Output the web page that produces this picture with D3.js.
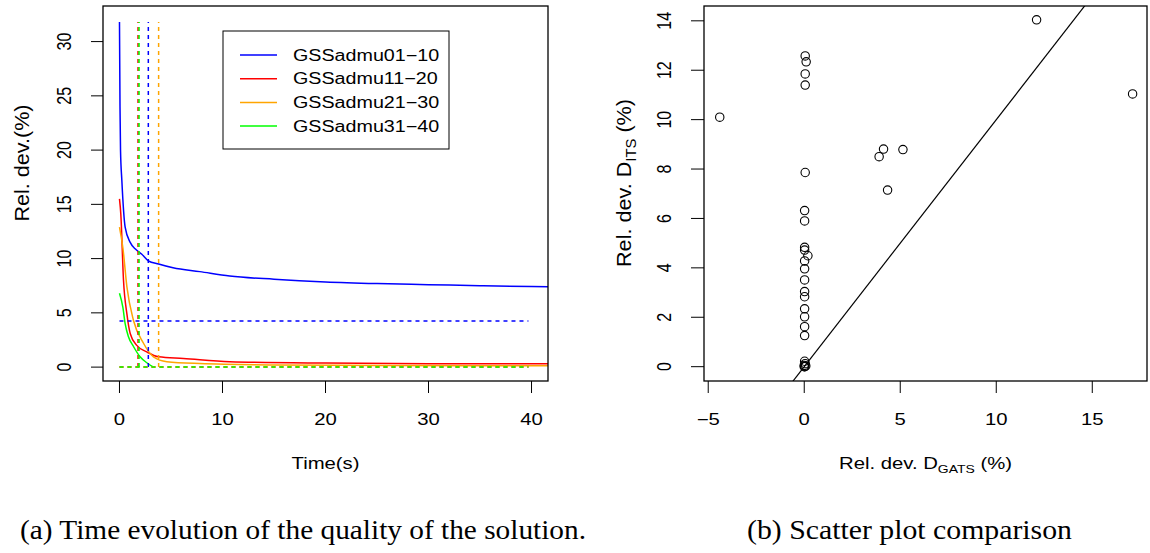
<!DOCTYPE html>
<html>
<head>
<meta charset="utf-8">
<script src="https://cdn.jsdelivr.net/npm/d3@7"></script>
<style>
  body { margin: 0; background: #fff; }
  text { font-family: "Liberation Sans", Arial, sans-serif; fill: #000; }
  text.caption { font-family: "Liberation Serif", "Times New Roman", serif; }
</style>
</head>
<body>
<svg id="chart" width="1150" height="553"></svg>
<script>
// ---- data ----
const seriesNames = ["GSSadmu01\u221210", "GSSadmu11\u221220", "GSSadmu21\u221230", "GSSadmu31\u221240"];
const seriesColors = ["#0000ff", "#ff0000", "#ffa500", "#00ff00"];

const blueT = [0, 0.05, 0.1, 0.23, 0.55, 1.04, 1.52, 2.17, 2.8, 3.8, 5.2, 7.8, 10.7, 15, 20, 25, 30, 35, 40, 42];
const blueV = [31.8, 24, 20, 17.2, 12.9, 11.5, 10.9, 10.4, 9.8, 9.5, 9.15, 8.8, 8.4, 8.1, 7.85, 7.7, 7.6, 7.5, 7.42, 7.4];
const redT = [0, 0.13, 0.39, 0.72, 1.04, 1.68, 2.65, 3.8, 6.2, 10.7, 20, 30, 42];
const redV = [15.5, 14.1, 8.0, 4.9, 3.1, 2.0, 1.4, 0.95, 0.8, 0.5, 0.37, 0.32, 0.3];
const orangeT = [0, 0.33, 0.72, 1.36, 2.33, 3.3, 4.6, 7.8, 15, 25, 42];
const orangeV = [12.9, 11.0, 7.4, 4.3, 2.2, 0.95, 0.5, 0.33, 0.2, 0.15, 0.12];
const greenT = [0, 0.33, 0.55, 0.87, 1.36, 2.0, 2.65, 3.3];
const greenV = [6.8, 5.5, 4.0, 2.8, 1.9, 0.95, 0.4, 0];

// dashed reference lines per series: mean time (vertical) and level (horizontal)
const refTime = [2.8, 1.8, 3.8, 1.9];
const refLevel = [4.25, 0, 0, 0];
const refTop = 31.8;
const refEnd = 39.7;

const timeTicks = [0, 10, 20, 30, 40];
const devTicks = [0, 5, 10, 15, 20, 25, 30];

// scatter: GATS vs ITS relative deviation
const gatsDev = [-4.4, 12.1, 17.1, 3.9, 4.13, 5.14, 4.34,
  0.05, 0.1, 0.05, 0.05, 0.05, 0.02, 0.02, 0.02, 0.02, 0.19, 0.02, 0.02, 0.02,
  0.02, 0.02, 0.02, 0.02, 0.02, 0.02, 0.02, 0.05, 0, 0.03, 0.08, 0];
const itsDev = [10.1, 14.04, 11.04, 8.5, 8.81, 8.79, 7.15,
  12.58, 12.34, 11.85, 11.4, 7.86, 6.32, 5.9, 4.83, 4.72, 4.49, 4.28, 3.96, 3.51,
  3.04, 2.83, 2.34, 2.02, 1.62, 1.26, 0.22, 0.12, 0.05, 0.0, 0.03, 0.0];
const gatsTicks = [-5, 0, 5, 10, 15];
const itsTicks = [0, 2, 4, 6, 8, 10, 12, 14];

const captions = ["(a) Time evolution of the quality of the solution.", "(b) Scatter plot comparison"];

// ---- layout ----
const svg = d3.select("#chart");
const stretch = 1.27;   // the plot text in the picture is wider than normal
const fs = 16;

function label(g, x, y, txt, rotate) {
  return g.append("text")
    .attr("transform", `translate(${x},${y}) scale(${stretch},1)` + (rotate ? " rotate(-90)" : ""))
    .attr("text-anchor", "middle")
    .attr("dy", "0.35em")
    .attr("font-size", fs)
    .text(txt);
}

// ================= left panel =================
const L = { left: 103, right: 548, top: 6, bottom: 381 };
const x1 = d3.scaleLinear().domain([-1.6, 41.6]).range([L.left, L.right]);
const y1 = d3.scaleLinear().domain([-1.28, 33.28]).range([L.bottom, L.top]);

svg.append("clipPath").attr("id", "clipL")
  .append("rect").attr("x", L.left).attr("y", L.top)
  .attr("width", L.right - L.left).attr("height", L.bottom - L.top);

const left = svg.append("g");
const plotL = left.append("g").attr("clip-path", "url(#clipL)");

const line1 = d3.line().x(d => x1(d[0])).y(d => y1(d[1])).curve(d3.curveMonotoneX);
const curves = [[blueT, blueV], [redT, redV], [orangeT, orangeV], [greenT, greenV]];

curves.forEach((c, i) => {
  plotL.append("path")
    .datum(d3.zip(c[0], c[1]))
    .attr("fill", "none").attr("stroke", seriesColors[i]).attr("stroke-width", 1.5)
    .attr("d", line1);
});

// dashed reference lines
seriesColors.forEach((col, i) => {
  plotL.append("line")
    .attr("x1", x1(refTime[i])).attr("x2", x1(refTime[i]))
    .attr("y1", y1(0)).attr("y2", y1(refTop))
    .attr("stroke", col).attr("stroke-width", 1.5).attr("stroke-dasharray", "4,4");
  plotL.append("line")
    .attr("x1", x1(0)).attr("x2", x1(refEnd))
    .attr("y1", y1(refLevel[i])).attr("y2", y1(refLevel[i]))
    .attr("stroke", col).attr("stroke-width", 1.5).attr("stroke-dasharray", "4,4");
});

left.append("rect")
  .attr("x", L.left).attr("y", L.top)
  .attr("width", L.right - L.left).attr("height", L.bottom - L.top)
  .attr("fill", "none").attr("stroke", "#000").attr("stroke-width", 1.3);

// axes (R style: ticks outside, labels further out)
left.selectAll(".xt").data(timeTicks).join("line").attr("class", "xt")
  .attr("x1", d => x1(d)).attr("x2", d => x1(d))
  .attr("y1", L.bottom).attr("y2", L.bottom + 12)
  .attr("stroke", "#000");
timeTicks.forEach(d => label(left, x1(d), 419, d));

left.selectAll(".yt").data(devTicks).join("line").attr("class", "yt")
  .attr("x1", L.left).attr("x2", L.left - 12)
  .attr("y1", d => y1(d)).attr("y2", d => y1(d))
  .attr("stroke", "#000");
devTicks.forEach(d => label(left, 64, y1(d), d, true));

label(left, (L.left + L.right) / 2, 463, "Time(s)");
label(left, 22, 163, "Rel. dev.(%)", true)
  .attr("textLength", 117).attr("lengthAdjust", "spacingAndGlyphs");

// legend
const leg = left.append("g");
leg.append("rect").attr("x", 223).attr("y", 31).attr("width", 226).attr("height", 118)
  .attr("fill", "#fff").attr("stroke", "#000").attr("stroke-width", 1);
seriesNames.forEach((name, i) => {
  const yy = 55 + i * 23.7;
  leg.append("line").attr("x1", 240).attr("x2", 277).attr("y1", yy).attr("y2", yy)
    .attr("stroke", seriesColors[i]).attr("stroke-width", 1.5);
  leg.append("text")
    .attr("transform", `translate(293,${yy}) scale(${stretch * 0.97},1)`)
    .attr("dy", "0.35em").attr("font-size", fs)
    .text(name);
});

// ================= right panel =================
const R = { left: 704, right: 1147, top: 6, bottom: 381 };
const x2 = d3.scaleLinear().domain([-5.22, 17.85]).range([R.left, R.right]);
const y2 = d3.scaleLinear().domain([-0.58, 14.6]).range([R.bottom, R.top]);

svg.append("clipPath").attr("id", "clipR")
  .append("rect").attr("x", R.left).attr("y", R.top)
  .attr("width", R.right - R.left).attr("height", R.bottom - R.top);

const right = svg.append("g");
const plotR = right.append("g").attr("clip-path", "url(#clipR)");

// y = x reference line
const lo = -1, hi = 20;
plotR.append("line")
  .attr("x1", x2(lo)).attr("y1", y2(lo)).attr("x2", x2(hi)).attr("y2", y2(hi))
  .attr("stroke", "#000").attr("stroke-width", 1.2);

plotR.selectAll("circle").data(d3.zip(gatsDev, itsDev)).join("circle")
  .attr("cx", d => x2(d[0])).attr("cy", d => y2(d[1])).attr("r", 4.2)
  .attr("fill", "none").attr("stroke", "#000").attr("stroke-width", 1.1);

right.append("rect")
  .attr("x", R.left).attr("y", R.top)
  .attr("width", R.right - R.left).attr("height", R.bottom - R.top)
  .attr("fill", "none").attr("stroke", "#000").attr("stroke-width", 1.3);

right.selectAll(".xt").data(gatsTicks).join("line").attr("class", "xt")
  .attr("x1", d => x2(d)).attr("x2", d => x2(d))
  .attr("y1", R.bottom).attr("y2", R.bottom + 12)
  .attr("stroke", "#000");
gatsTicks.forEach(d => label(right, x2(d), 419, d < 0 ? "\u2212" + Math.abs(d) : d));

right.selectAll(".yt").data(itsTicks).join("line").attr("class", "yt")
  .attr("x1", R.left).attr("x2", R.left - 13)
  .attr("y1", d => y2(d)).attr("y2", d => y2(d))
  .attr("stroke", "#000");
itsTicks.forEach(d => label(right, 664, y2(d), d, true));

// axis titles with subscripts
const xt = label(right, (R.left + R.right) / 2, 463, "");
xt.append("tspan").text("Rel. dev. D");
xt.append("tspan").attr("font-size", 11).attr("dy", "4").text("GATS");
xt.append("tspan").attr("dy", "-4").text(" (%)");

const yt = label(right, 624, 183, "", true)
  .attr("textLength", 168).attr("lengthAdjust", "spacingAndGlyphs");
yt.append("tspan").text("Rel. dev. D");
yt.append("tspan").attr("font-size", 11).attr("dy", "4").text("ITS");
yt.append("tspan").attr("dy", "-4").text(" (%)");

// ================= captions =================
svg.append("text").attr("class", "caption").attr("x", 20).attr("y", 539)
  .attr("font-size", 28).attr("textLength", 566).attr("lengthAdjust", "spacingAndGlyphs")
  .text(captions[0]);
svg.append("text").attr("class", "caption").attr("x", 747).attr("y", 539)
  .attr("font-size", 28).attr("textLength", 325).attr("lengthAdjust", "spacingAndGlyphs")
  .text(captions[1]);
</script>
</body>
</html>
